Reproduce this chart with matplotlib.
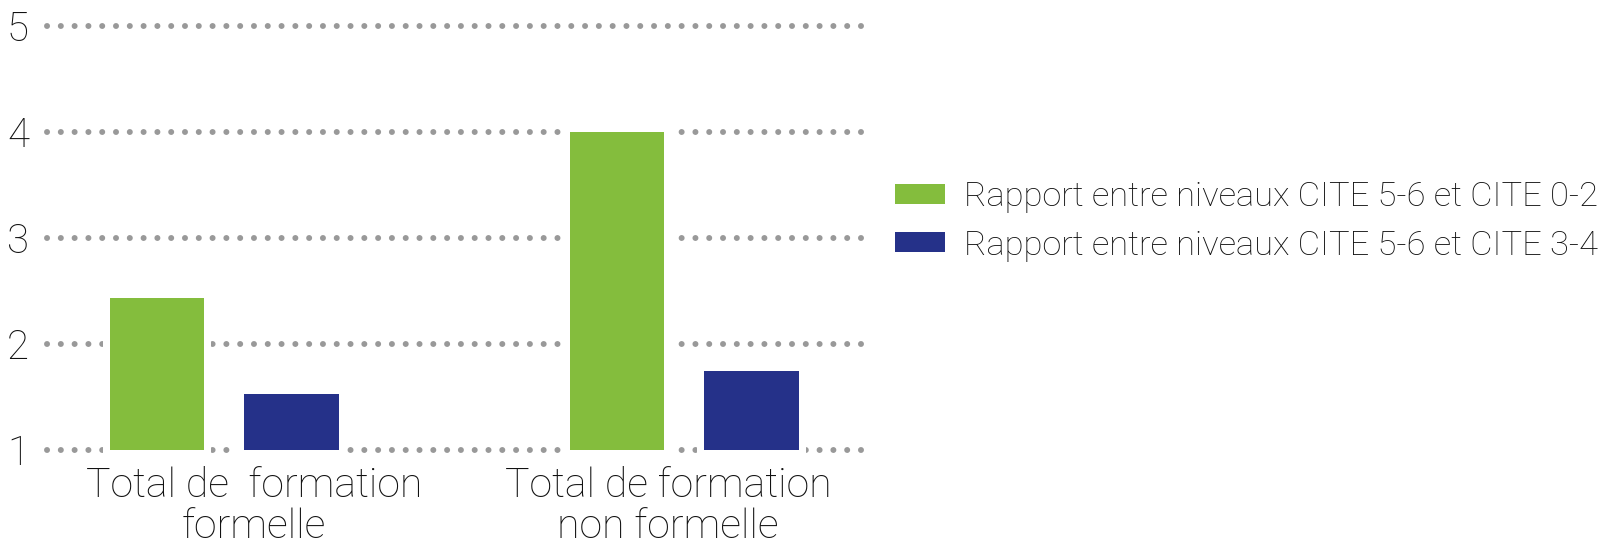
import matplotlib
matplotlib.use('Agg')
import matplotlib.pyplot as plt
import numpy as np

# =========================
# DONNEES
# =========================
categories = ['Total de  formation\nformelle', 'Total de formation\nnon formelle']
serie_02 = [2.43, 4.0]    # Rapport CITE 5-6 / CITE 0-2
serie_34 = [1.53, 1.745]  # Rapport CITE 5-6 / CITE 3-4
series_labels = ['Rapport entre niveaux CITE 5-6 et CITE 0-2',
                 'Rapport entre niveaux CITE 5-6 et CITE 3-4']
yticks = [1, 2, 3, 4, 5]

green = '#84BD3D'
blue = '#253189'
grid_col = '#999999'
text_col = '#111111'

plt.rcParams['font.family'] = ['Roboto', 'DejaVu Sans']

W, H = 1617, 546
fig = plt.figure(figsize=(W / 100, H / 100), dpi=100)
ax = fig.add_axes([47 / W, 1 - 450 / H, (864 - 47) / W, (450 - 26) / H])

x = np.arange(len(categories))
offset = 0.1464
width = 0.2055
pad_x = 7 / 459.8  # marge blanche autour des barres (coupe la grille)

# grille pointillee dessinee a la main
for yv in yticks:
    ax.plot([-0.3856, 1.3913], [yv, yv], color=grid_col, lw=4.3,
            linestyle=(0, (0.01, 2.3)), dash_capstyle='round',
            solid_capstyle='round', zorder=1, clip_on=False)

for vals, xs in [(serie_02, x - offset), (serie_34, x + offset)]:
    vals = np.array(vals)
    # fond blanc un peu plus large
    ax.bar(xs, vals - 1 + 0.1, width=width + 2 * pad_x, bottom=0.95,
           color='white', zorder=2, clip_on=False)

b1 = ax.bar(x - offset, np.array(serie_02) - 1, width=width, bottom=1,
            color=green, zorder=3, label=series_labels[0])
b2 = ax.bar(x + offset, np.array(serie_34) - 1, width=width, bottom=1,
            color=blue, zorder=3, label=series_labels[1])

ax.set_xlim(-0.3856, 1.3913)
ax.set_ylim(1, 5)
ax.set_yticks(yticks)
ax.set_yticklabels([str(v) for v in yticks], fontsize=29, color=text_col,
                   fontweight='light')
ax.set_xticks([0.0646, 0.965])
ax.set_xticklabels(categories, fontsize=29.5, color=text_col, linespacing=1.08,
                   fontweight='light', multialignment='center')
ax.tick_params(axis='y', length=0, pad=13)
ax.tick_params(axis='x', length=0, pad=12)
for s in ax.spines.values():
    s.set_visible(False)

leg = fig.legend(handles=[b1, b2], labels=series_labels,
                 loc='upper left', bbox_to_anchor=(895 / W, 1 - 181 / H),
                 frameon=False, fontsize=24.8, handlelength=1.45,
                 handleheight=0.52, handletextpad=0.55, labelspacing=0.48,
                 borderpad=0, borderaxespad=0)
for t in leg.get_texts():
    t.set_color(text_col)
    t.set_fontweight('light')

fig.savefig('out.png', dpi=100)
